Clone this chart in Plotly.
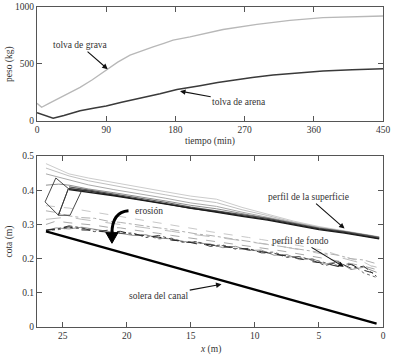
import plotly.graph_objects as go

# ---------------- top panel data ----------------
t_grava = [0, 6, 15, 26, 40, 56, 72, 90, 105, 121, 136, 151, 165, 177, 199, 212, 242, 286, 329, 372, 410, 450]
grava = [153, 118, 150, 188, 240, 293, 360, 445, 515, 576, 615, 649, 680, 708, 737, 758, 802, 848, 883, 907, 915, 921]

t_arena = [0, 10, 21, 35, 56, 75, 90, 110, 134, 160, 182, 199, 212, 235, 255, 280, 307, 340, 372, 410, 450]
arena = [70, 45, 21, 45, 88, 112, 129, 162, 196, 237, 275, 290, 307, 335, 357, 380, 401, 420, 436, 447, 456]

time_ticks = [0, 90, 180, 270, 360, 450]
peso_ticks = [0, 500, 1000]

# ---------------- bottom panel data ----------------
x_surf = [26.3, 25.3, 24.5, 23, 21, 19, 17, 15, 13, 11, 9, 7, 5, 3, 1, 0.3]
surf_a = [0.478, 0.462, 0.448, 0.436, 0.422, 0.410, 0.396, 0.383, 0.374, 0.350, 0.330, 0.310, 0.294, 0.282, 0.269, 0.264]
surf_b = [0.465, 0.452, 0.442, 0.428, 0.413, 0.400, 0.387, 0.374, 0.364, 0.343, 0.326, 0.307, 0.292, 0.281, 0.268, 0.263]
surf_c = [0.448, 0.438, 0.430, 0.416, 0.402, 0.390, 0.377, 0.363, 0.353, 0.336, 0.321, 0.305, 0.291, 0.280, 0.267, 0.262]
surf_d = [0.415, 0.418, 0.415, 0.404, 0.393, 0.382, 0.369, 0.356, 0.346, 0.332, 0.319, 0.304, 0.290, 0.279, 0.267, 0.261]
surf_e = [None, None, 0.410, 0.401, 0.389, 0.378, 0.365, 0.351, 0.341, 0.329, 0.318, 0.304, 0.289, 0.279, 0.267, 0.262]
surf_f = [None, None, 0.405, 0.398, 0.386, 0.374, 0.361, 0.347, 0.338, 0.326, 0.315, 0.301, 0.287, 0.277, 0.265, 0.259]
surf_g = [None, None, 0.402, 0.395, 0.384, 0.372, 0.360, 0.346, 0.336, 0.324, 0.313, 0.300, 0.285, 0.275, 0.264, 0.258]

x_bed = [26.3, 25.5, 24.5, 23.5, 22.5, 21.5, 20.5, 19.5, 18.5, 17.5, 16.5, 15.5, 14.5, 13.5,
         12.5, 11.5, 10.5, 9.5, 8.5, 7.5, 6.5, 5.5, 4.5, 3.5, 2.5, 1.5, 0.5]
bed_1 = [0.283, 0.288, 0.293, 0.284, 0.283, 0.277, 0.280, 0.271, 0.266, 0.263, 0.254, 0.251, 0.243, 0.241,
         0.235, 0.233, 0.226, 0.221, 0.213, 0.208, 0.200, 0.191, 0.186, 0.177, 0.183, 0.166, 0.155]
bed_2 = [0.283, 0.286, 0.296, 0.290, 0.279, 0.283, 0.274, 0.275, 0.262, 0.268, 0.257, 0.247, 0.249, 0.236,
         0.238, 0.228, 0.230, 0.217, 0.216, 0.204, 0.206, 0.195, 0.180, 0.190, 0.172, 0.178, 0.148]
bed_3 = [0.283, 0.290, 0.287, 0.292, 0.286, 0.280, 0.276, 0.268, 0.270, 0.260, 0.258, 0.250, 0.246, 0.243,
         0.232, 0.236, 0.224, 0.225, 0.210, 0.212, 0.197, 0.200, 0.184, 0.192, 0.168, 0.175, 0.160]
bed_4 = [0.283, 0.284, 0.290, 0.287, 0.285, 0.274, 0.278, 0.270, 0.268, 0.258, 0.260, 0.248, 0.250, 0.238,
         0.240, 0.230, 0.228, 0.219, 0.219, 0.206, 0.203, 0.198, 0.188, 0.180, 0.186, 0.158, 0.145]
bed_d1 = [0.355, 0.352, 0.348, 0.342, 0.336, 0.330, 0.322, 0.316, 0.310, 0.305, 0.298, 0.292, 0.286, 0.279,
          0.274, 0.268, 0.262, 0.256, 0.250, 0.245, 0.238, 0.230, 0.223, 0.210, 0.200, 0.190, 0.170]
bed_d2 = [0.315, 0.318, 0.322, 0.315, 0.310, 0.305, 0.302, 0.296, 0.290, 0.286, 0.280, 0.274, 0.270, 0.264,
          0.260, 0.255, 0.250, 0.244, 0.238, 0.233, 0.226, 0.220, 0.212, 0.205, 0.195, 0.185, 0.175]
bed_d3 = [0.300, 0.310, 0.305, 0.302, 0.298, 0.292, 0.290, 0.284, 0.280, 0.274, 0.268, 0.263, 0.258, 0.252,
          0.248, 0.243, 0.237, 0.232, 0.226, 0.220, 0.214, 0.207, 0.200, 0.193, 0.186, 0.178, 0.168]
bed_d4 = [0.340, 0.335, 0.325, 0.320, 0.318, 0.310, 0.306, 0.300, 0.295, 0.290, 0.285, 0.278, 0.272, 0.268,
          0.262, 0.257, 0.250, 0.246, 0.240, 0.234, 0.228, 0.222, 0.215, 0.210, 0.200, 0.196, 0.185]

# early-time deformed profiles near the upstream end
x_early = [26.37, 25.53, 24.55, 25.33, 26.37, None, 25.33, 24.55, 23.5, 24.42, 25.33]
y_early = [0.366, 0.436, 0.405, 0.327, 0.366, None, 0.327, 0.405, 0.400, 0.327, 0.327]

x_solera = [26.3, 0.5]
y_solera = [0.280, 0.010]

x_ticks = [25, 20, 15, 10, 5, 0]
cota_ticks = [0, 0.1, 0.2, 0.3, 0.4, 0.5]

FONT = "Liberation Serif, Times New Roman, Times, serif"
FS = 9.5
AX = "#555555"
TXT = "#333333"

fig = go.Figure()

# top panel
fig.add_trace(go.Scatter(x=t_grava, y=grava, mode="lines", line=dict(color="#b8b8b8", width=1.3),
                         xaxis="x", yaxis="y", showlegend=False, hoverinfo="skip"))
fig.add_trace(go.Scatter(x=t_arena, y=arena, mode="lines", line=dict(color="#3a3a3a", width=1.5),
                         xaxis="x", yaxis="y", showlegend=False, hoverinfo="skip"))

# bottom panel: bed profiles
for ys, col, dash, w in [
    (bed_d1, "#c8c8c8", "dash", 1), (bed_d4, "#b0b0b0", "dashdot", 1),
    (bed_d2, "#bdbdbd", "longdash", 1), (bed_d3, "#a8a8a8", "dash", 1),
    (bed_4, "#6a6a6a", "dot", 1), (bed_3, "#7a7a7a", "solid", 0.8),
    (bed_2, "#444444", "dashdot", 1), (bed_1, "#2a2a2a", "dash", 1),
]:
    fig.add_trace(go.Scatter(x=x_bed, y=ys, mode="lines", line=dict(color=col, width=w, dash=dash),
                             xaxis="x2", yaxis="y2", showlegend=False, hoverinfo="skip"))

# surface profiles
for ys, col, w in [
    (surf_a, "#cccccc", 1), (surf_b, "#c0c0c0", 1), (surf_c, "#aaaaaa", 1),
    (surf_d, "#909090", 1), (surf_e, "#5a5a5a", 1.2), (surf_f, "#333333", 1.3),
    (surf_g, "#1a1a1a", 1.3),
]:
    fig.add_trace(go.Scatter(x=x_surf, y=ys, mode="lines", line=dict(color=col, width=w),
                             xaxis="x2", yaxis="y2", showlegend=False, hoverinfo="skip"))

fig.add_trace(go.Scatter(x=x_early, y=y_early, mode="lines", line=dict(color="#333333", width=0.9),
                         xaxis="x2", yaxis="y2", showlegend=False, hoverinfo="skip", connectgaps=False))

fig.add_trace(go.Scatter(x=x_solera, y=y_solera, mode="lines", line=dict(color="#000000", width=2.3),
                         xaxis="x2", yaxis="y2", showlegend=False, hoverinfo="skip"))

axis_common = dict(showline=True, mirror="ticks", linecolor=AX, linewidth=1,
                   ticks="inside", ticklen=5, tickcolor=AX, tickwidth=1,
                   showgrid=False, zeroline=False,
                   tickfont=dict(family=FONT, size=FS, color=TXT))

fig.update_layout(
    width=394, height=358,
    margin=dict(l=37, r=11, t=7, b=31, autoexpand=False),
    paper_bgcolor="white", plot_bgcolor="white",
    font=dict(family=FONT, size=FS, color=TXT),
    xaxis=dict(domain=[0, 1], range=[0, 450], tickvals=time_ticks, anchor="y", **axis_common),
    yaxis=dict(domain=[0.6447, 1], range=[0, 1000], tickvals=peso_ticks, anchor="x", **axis_common),
    xaxis2=dict(domain=[0, 1], range=[27, 0], tickvals=x_ticks, anchor="y2", **axis_common),
    yaxis2=dict(domain=[0, 0.534], range=[0, 0.5], tickvals=cota_ticks, tickformat=".1~f",
                anchor="x2", **axis_common),
)

tf = dict(family=FONT, size=FS, color=TXT)
arrow = dict(showarrow=True, arrowhead=2, arrowsize=1, arrowwidth=1.1, arrowcolor="#111")
annots = [
    # axis titles
    dict(text="tiempo (min)", xref="paper", yref="paper", x=0.5, y=0.6447, yshift=-21,
         showarrow=False, font=tf, xanchor="center", yanchor="middle"),
    dict(text="peso (kg)", xref="paper", yref="paper", x=0, xshift=-27, y=0.822, textangle=-90,
         showarrow=False, font=tf, xanchor="center", yanchor="middle"),
    dict(text="<i>x</i> (m)", xref="paper", yref="paper", x=0.5, y=0, yshift=-22,
         showarrow=False, font=tf, xanchor="center", yanchor="middle"),
    dict(text="cota (m)", xref="paper", yref="paper", x=0, xshift=-27, y=0.267, textangle=-90,
         showarrow=False, font=tf, xanchor="center", yanchor="middle"),
    # top panel labels
    dict(text="tolva de grava", xref="x", yref="y", x=92, y=453, ax=56, ay=664,
         axref="x", ayref="y", font=tf, **arrow),
    dict(text="tolva de arena", xref="x", yref="y", x=186, y=260, ax=263, ay=164,
         axref="x", ayref="y", font=tf, **arrow),
    # bottom panel labels
    dict(text="erosión", xref="x2", yref="y2", x=18.26, y=0.339, showarrow=False, font=tf,
         xanchor="center", yanchor="middle"),
    dict(text="solera del canal", xref="x2", yref="y2", x=12.6, y=0.125, ax=17.5, ay=0.091,
         axref="x2", ayref="y2", font=tf, **arrow),
    dict(text="perfil de la superficie", xref="x2", yref="y2", x=3.0, y=0.288, ax=5.8, ay=0.38,
         axref="x2", ayref="y2", font=tf, **arrow),
    dict(text="perfil de fondo", xref="x2", yref="y2", x=3.06, y=0.176, ax=6.42, ay=0.252,
         axref="x2", ayref="y2", font=tf, **arrow),
]
fig.update_layout(annotations=annots)

# curved erosion arrow
fig.add_shape(type="path", xref="x2", yref="y2",
              path="M 19.86 0.340 Q 21.15 0.336 21.15 0.274",
              line=dict(color="#000", width=3))
fig.add_shape(type="path", xref="x2", yref="y2",
              path="M 21.62 0.276 L 20.68 0.276 L 21.15 0.245 Z",
              line=dict(color="#000", width=1), fillcolor="#000")

fig.write_html("out.html", config={"displayModeBar": False, "responsive": False},
               post_script="document.body.style.margin='0';document.body.style.padding='0';")
